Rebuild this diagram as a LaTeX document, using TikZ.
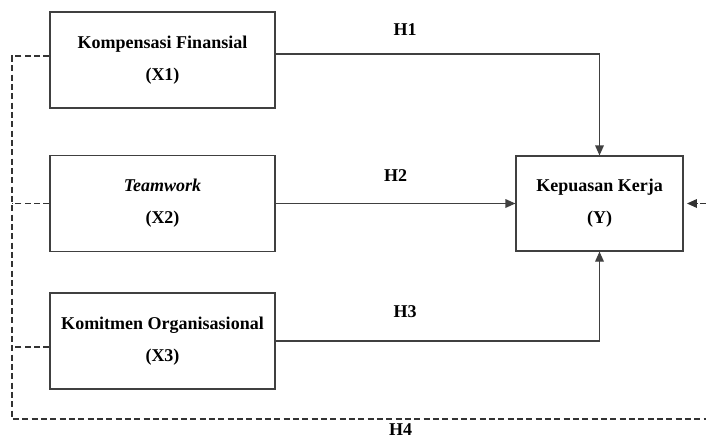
\documentclass[tikz,border=0pt]{standalone}
\usepackage{fontspec}
\setmainfont{Liberation Serif}
\usetikzlibrary{positioning, arrows.meta}
\tikzset{Box/.style={%
    shape=rectangle,%
    draw=black!75,%
    line width=0.9pt,%
    minimum width=168.75pt,%
    minimum height=72pt,%
    align=center,%
    font=\fontsize{13.5}{24}\selectfont\bfseries,%
}}
\tikzset{NormalEdge/.style={%
    draw=black!75,%
    line width=0.9pt,%
    -{Triangle[length=7.5pt,width=6.5pt]},%
}}
\tikzset{DashEdge/.style={%
    draw=black!80,%
    line width=0.9pt,%
    dash pattern=on 4.5pt off 2.5pt,%
}}
\tikzset{HypLabel/.style={%
    inner sep=0pt,%
    font=\fontsize{13.5}{16}\selectfont\bfseries,%
}}

\begin{document}
\begin{tikzpicture}[x=0.75pt, y=-0.75pt]
    \useasboundingbox (0,0) rectangle (706,443);

    \node[Box] (x1) at (162.5,60) {Kompensasi Finansial\\(X1)};
    \node[Box] (x2) at (162.5,203.5) {\textit{Teamwork}\\(X2)};
    \node[Box] (x3) at (162.5,341) {Komitmen Organisasional\\(X3)};
    \node[Box, minimum width=125.25pt, minimum height=71.25pt] (y) at (599.5,203.5) {Kepuasan Kerja\\(Y)};

    \coordinate (tl) at (12,56);
    \coordinate (bl) at (12,419);
    \coordinate (br) at (706,419);
    \coordinate (re) at (706,0);
    \coordinate (x3in) at ([yshift=-4.5pt]x3.west);

    \draw[NormalEdge] ([yshift=4.5pt]x1.east) -| node[HypLabel, pos=0.2, above=13.5pt]{H1} (y.north);
    \draw[NormalEdge] (x2.east) -- node[HypLabel, pos=0.5, above=16pt]{H2} (y.west);
    \draw[NormalEdge] (x3.east) -| node[HypLabel, pos=0.2, above=17pt]{H3} (y.south);

    \draw[DashEdge] (x1.west |- tl) -- (tl) -- (bl) -- node[HypLabel, pos=0.56, below=3pt]{H4} (br);
    \draw[DashEdge] (x2.west) -- (x2.west -| tl);
    \draw[DashEdge] (x3in) -- (x3in -| bl);
    \draw[DashEdge, -{Triangle[length=7.5pt,width=6.5pt]}, shorten >=2.5pt] (y.east -| re) -- (y.east);
\end{tikzpicture}
\end{document}
